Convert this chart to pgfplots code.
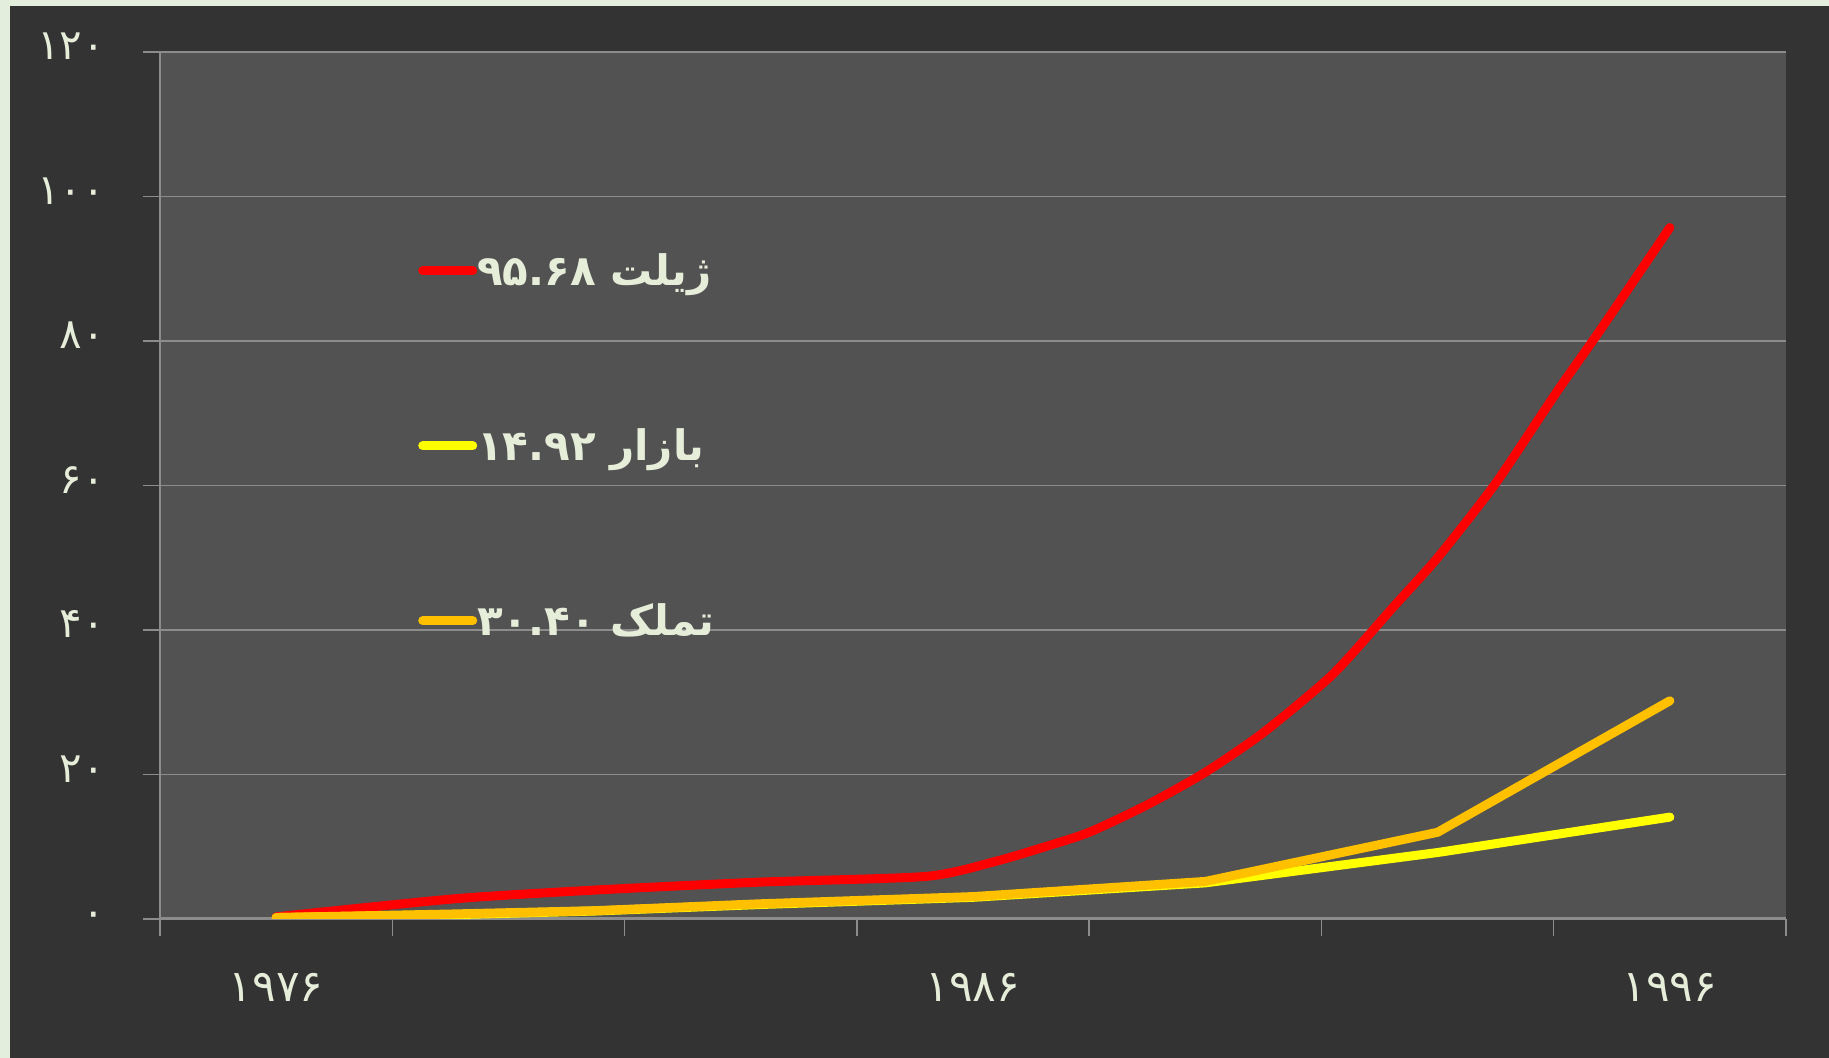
\documentclass[border=0pt]{standalone}
\usepackage{fontspec}
\usepackage{pgfplots}
\pgfplotsset{compat=1.18}
\TeXXeTstate=1
\newfontfamily\arabicfont[Script=Arabic]{DejaVu Sans}
\definecolor{outerbg}{HTML}{333333}
\definecolor{plotbg}{HTML}{525252}
\definecolor{gridc}{HTML}{8C8C8C}
\definecolor{txt}{HTML}{E6EEDA}
\definecolor{framec}{HTML}{E4EEDC}
\definecolor{cred}{HTML}{FF0000}
\definecolor{cyel}{HTML}{FFFF00}
\definecolor{corg}{HTML}{FFC000}
\begin{document}
\begin{tikzpicture}
\fill[framec] (-80pt,-69.5pt) rectangle (834.5pt,459.5pt);
\fill[outerbg] (-75pt,-69.5pt) rectangle (834.5pt,456.5pt);
\begin{axis}[
  at={(0pt,0pt)}, anchor=south west,
  scale only axis, width=813pt, height=433.5pt,
  xmin=-0.5, xmax=6.5, ymin=0, ymax=120,
  axis background/.style={fill=plotbg},
  axis x line*=bottom, axis y line*=left,
  x axis line style={gridc, line width=1.5pt, -},
  y axis line style={gridc, line width=0.8pt, -},
  ytick={0,20,...,120},
  yticklabels={۰,۲۰,۴۰,۶۰,۸۰,۱۰۰,۱۲۰},
  ymajorgrids, grid style={gridc, line width=0.7pt},
  tick align=outside, major tick length=8.5pt, minor tick length=8.5pt,
  ytick style={gridc, line width=0.7pt},
  xtick={0,3,6}, xticklabels={۱۹۷۶,۱۹۸۶,۱۹۹۶},
  major x tick style={draw=none},
  minor xtick={-0.5,0.5,...,6.5},
  minor x tick style={gridc, line width=0.7pt},
  xticklabel style={font=\arabicfont\fontsize{22}{22}\selectfont, text=txt, yshift=-15pt},
  yticklabel style={font=\arabicfont\fontsize{21}{21}\selectfont, text=txt, anchor=base east, xshift=-15.5pt, yshift=-4pt},
  legend style={at={(axis cs:0.61,65.5)}, anchor=west, draw=none, fill=none,
    inner sep=0pt, row sep=70pt, column sep=0pt,
    font=\arabicfont\bfseries\fontsize{21}{21}\selectfont, text=txt,
    nodes={inner sep=0pt}},
  legend cell align=left,
  legend image code/.code={\draw[#1, line cap=round] (2.25pt,0pt) -- (27.25pt,0pt);},
  every axis plot/.append style={line width=4.5pt, line join=round, line cap=round},
]
\addplot[cred, smooth, tension=0.4] coordinates {(0,0.3) (0.77,2.8) (1.37,4.0) (2.08,5.1) (2.8,5.9) (3.1,8.0) (3.3,9.9) (3.5,12.0) (3.75,15.8) (4.0,20.3) (4.25,25.8) (4.55,33.9) (4.81,43.2) (5.0,50.0) (5.25,60.3) (5.51,72.8) (5.7,81.5) (6,95.7)};
\addlegendentry{۹۵.۶۸ \beginR ژیلت\endR}
\addplot[cyel] coordinates {(0,0.2) (0.77,0.6) (1.37,1.1) (2.08,2.0) (3.0,3.0) (4.0,5.0) (5.0,9.2) (6.0,14.1)};
\addlegendentry{۱۴.۹۲ \beginR بازار\endR}
\addplot[corg] coordinates {(0,0.2) (0.77,0.7) (1.37,1.15) (2.08,2.1) (3.0,3.1) (4.0,5.2) (5.0,12.0) (6.0,30.2)};
\addlegendentry{۳۰.۴۰ \beginR تملک\endR}
\end{axis}
\pgfresetboundingbox
\useasboundingbox (-80pt,-69.5pt) rectangle (834.5pt,459.5pt);
\end{tikzpicture}
\end{document}
